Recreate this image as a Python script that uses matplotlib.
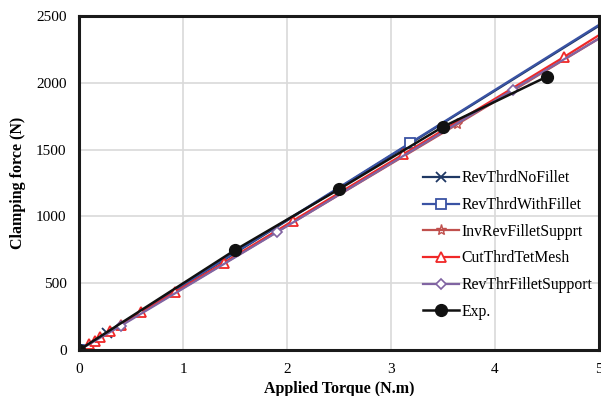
import matplotlib.pyplot as plt

# torque (N.m) and clamping force (N)
noFilletX = [0, 0.27, 1.5, 3.0, 5.0]
noFilletY = [0, 130, 725, 1455, 2425]
withFilletX = [0, 3.18, 5.0]
withFilletY = [0, 1547, 2432]
invRevX = [0, 3.64, 5.0]
invRevY = [0, 1690, 2330]
cutThrdX = [0, 0.1, 0.15, 0.2, 0.3, 0.4, 0.6, 0.92, 1.39, 2.06, 3.12, 4.66, 5.0]
cutThrdY = [0, 47, 70, 94, 141, 187, 282, 432, 652, 968, 1465, 2190, 2355]
filletSupX = [0, 0.4, 1.9, 4.17, 5.0]
filletSupY = [0, 180, 880, 1946, 2330]
expX = [0, 1.5, 2.5, 3.5, 4.5]
expY = [0, 748, 1203, 1670, 2045]

plt.rcParams['font.family'] = ['Liberation Serif', 'DejaVu Serif']

fig = plt.figure(figsize=(6.01, 3.96), dpi=100)
ax = fig.add_axes([0.1315, 0.116, 0.865, 0.844])

ax.plot(noFilletX, noFilletY, color='#1F3864', lw=1.6, marker='x', ms=7, mew=1.3,
        markevery=[0, 1], label='RevThrdNoFillet')
ax.plot(withFilletX, withFilletY, color='#3A53A4', lw=1.6, marker='s', ms=7, mfc='white',
        mew=1.3, markevery=[0, 1], label='RevThrdWithFillet')
ax.plot(invRevX, invRevY, color='#C0504D', lw=1.6, marker='*', ms=8, mfc='none', mew=1.0,
        markevery=[0, 1], label='InvRevFilletSupprt')
ax.plot(cutThrdX, cutThrdY, color='#F02828', lw=1.6, marker='^', ms=7, mfc='white',
        mew=1.3, markevery=list(range(len(cutThrdX) - 1)), label='CutThrdTetMesh')
ax.plot(filletSupX, filletSupY, color='#8064A2', lw=1.6, marker='D', ms=5, mfc='white',
        mew=1.2, markevery=[0, 1, 2, 3], label='RevThrFilletSupport')
ax.plot(expX, expY, color='#111111', lw=1.8, marker='o', ms=8.5, label='Exp.')

ax.set_xlim(0, 5)
ax.set_ylim(0, 2500)
ax.set_xticks([0, 1, 2, 3, 4, 5])
ax.set_yticks([0, 500, 1000, 1500, 2000, 2500])
ax.grid(True, color='#D9D9D9', lw=1.2)
ax.set_axisbelow(True)
ax.tick_params(length=0, labelsize=11, pad=9)
for s in ax.spines.values():
    s.set_linewidth(2.2)
    s.set_color('#1a1a1a')

ax.set_xlabel('Applied Torque (N.m)', fontsize=11.5, fontweight='bold', labelpad=4)
ax.set_ylabel('Clamping force (N)', fontsize=11.5, fontweight='bold', labelpad=7)

ax.legend(loc='upper left', bbox_to_anchor=(0.635, 0.58), frameon=False, fontsize=11.3,
          handlelength=2.3, labelspacing=0.68, handletextpad=0.15)

fig.savefig('out.png', dpi=100)
